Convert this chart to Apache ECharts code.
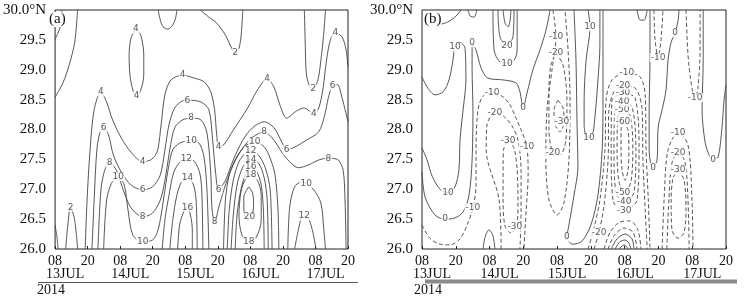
<!DOCTYPE html>
<html>
<head>
<meta charset="utf-8">
<script src="https://cdn.jsdelivr.net/npm/echarts@6/dist/echarts.min.js"></script>
<style>
html, body { margin: 0; padding: 0; background: #fff; }
#chart { width: 753px; height: 297px; }
</style>
</head>
<body>
<div id="chart"></div>
<script>
// time axis: hours after 13JUL 08, ticks every 12 h
const hourTicks = [0, 12, 24, 36, 48, 60, 72, 84, 96, 108]
const hourLabels = ['08', '20', '08', '20', '08', '20', '08', '20', '08', '20']
const dayTicks = [0, 24, 48, 72, 96]
const dayLabels = ['13JUL', '14JUL', '15JUL', '16JUL', '17JUL']
const latTicks = [26, 26.5, 27, 27.5, 28, 28.5, 29, 29.5, 30]
const latLabels = ['26.0', '26.5', '27.0', '27.5', '28.0', '28.5', '29.0', '29.5', '30.0°N']

// (a) contour lines, [hour, lat] along each line
const contoursA = [
  { level: 2, pts: [[0, 29.51], [1.1, 29.62], [2.2, 29.77], [2.5, 30]] },
  { level: 2, pts: [[8.3, 30], [7.9, 29.75], [7.2, 29.45], [5.4, 29.11], [2.9, 28.78], [0, 28.54]] },
  { level: 2, pts: [[38.0, 30], [38.8, 29.83], [39.8, 29.72], [41.6, 29.68], [43.4, 29.75], [44.5, 29.88], [44.9, 30]] },
  { level: 2, pts: [[53.5, 30], [56.7, 29.88], [59.6, 29.78], [62.8, 29.58], [64.9, 29.38], [66.4, 29.26], [67.8, 29.36], [68.5, 29.53], [68.9, 29.75], [69.2, 30]] },
  { level: 2, pts: [[91.9, 30], [92.2, 29.5], [92.6, 28.96], [93.6, 28.75], [95.1, 28.68], [96.9, 28.83], [98.0, 29.16], [99.0, 29.58], [99.7, 30]] },
  { level: 2, pts: [[3.9, 26.0], [4.7, 26.40], [5.7, 26.70], [7.2, 26.49], [8.3, 26.0]] },
  { level: 2, pts: [[0, 26.40], [0.7, 26.20], [1.1, 26.0]] },
  { level: 4, pts: [[29.8, 29.70], [31.6, 29.58], [32.7, 29.25], [32.7, 28.91], [31.6, 28.66], [30.1, 28.54], [28.7, 28.66], [27.6, 28.91], [27.3, 29.25], [28.0, 29.53], [29.8, 29.70]] },
  { level: 4, pts: [[11.1, 26.0], [11.8, 26.82], [12.9, 27.66], [14.4, 28.33], [16.9, 28.63], [19.0, 28.46], [21.2, 28.16], [24.4, 27.86], [28.0, 27.62], [32.3, 27.46], [35.2, 27.49], [37.0, 27.57], [38.0, 27.69], [39.1, 28.08], [40.5, 28.58], [42.7, 28.83], [47.0, 28.91], [51.3, 28.86], [54.9, 28.80], [57.4, 28.63], [58.8, 28.33], [59.6, 27.91], [60.3, 27.72], [62.1, 27.74], [65.7, 27.99], [71.0, 28.36], [74.6, 28.66], [78.2, 28.85], [80.7, 28.71], [82.9, 28.41], [85.4, 28.19], [89.0, 28.31], [91.9, 28.36], [95.4, 28.26], [97.2, 28.36], [98.7, 28.66], [100.1, 29.16], [101.5, 29.50], [103.3, 29.62], [105.8, 29.55], [107.3, 29.33], [108, 29.05]] },
  { level: 6, pts: [[13.6, 26.0], [14.4, 26.82], [15.4, 27.66], [16.5, 27.94], [17.9, 28.03], [19.7, 27.91], [21.5, 27.57], [24.4, 27.29], [28.0, 27.07], [32.3, 26.99], [35.9, 27.04], [38.8, 27.24], [40.5, 27.66], [42.0, 28.08], [44.1, 28.36], [47.0, 28.48], [48.8, 28.49], [53.8, 28.46], [56.7, 28.33], [58.1, 27.82], [59.2, 27.27], [60.3, 26.99], [62.8, 27.15], [65.7, 27.49], [69.2, 27.82], [72.8, 28.03], [77.1, 28.13], [80.7, 28.03], [83.6, 27.79], [85.4, 27.66], [89.0, 27.72], [92.6, 27.82], [97.2, 27.96], [99.4, 28.24], [100.8, 28.54], [102.3, 28.73], [104.1, 28.75], [105.8, 28.53], [108, 28.13]] },
  { level: 8, pts: [[15.8, 26.0], [16.9, 26.99], [18.3, 27.32], [20.1, 27.44], [22.6, 27.32], [25.1, 26.99], [28.0, 26.69], [32.3, 26.54], [35.9, 26.60], [38.8, 26.82], [40.5, 27.15], [42.3, 27.66], [44.1, 28.03], [47.0, 28.16], [50.2, 28.19], [53.8, 28.16], [56.0, 27.94], [57.4, 27.27], [57.8, 26.70], [58.8, 26.45], [60.6, 26.74], [62.8, 27.07], [65.7, 27.41], [69.2, 27.69], [72.8, 27.87], [77.1, 27.96], [80.7, 27.82], [83.6, 27.62], [86.5, 27.46], [89.7, 27.36], [93.6, 27.41], [97.2, 27.49], [100.8, 27.52], [104.4, 27.49], [106.2, 27.32], [106.9, 26.82], [107.3, 26.0]] },
  { level: 10, pts: [[17.9, 26.0], [19.0, 26.82], [20.8, 27.10], [23.3, 27.21], [25.5, 27.07], [26.9, 26.65], [28.7, 26.23], [32.3, 26.12], [35.9, 26.15], [37.7, 26.28], [39.1, 26.57], [40.5, 26.99], [42.0, 27.41], [43.4, 27.66], [45.9, 27.77], [50.2, 27.82], [53.1, 27.77], [54.9, 27.54], [56.0, 26.99], [56.7, 26.0]] },
  { level: 12, pts: [[39.5, 26.0], [40.5, 26.49], [42.0, 26.90], [43.8, 27.29], [46.3, 27.47], [48.4, 27.52], [51.3, 27.47], [53.5, 27.24], [54.2, 26.82], [54.5, 26.0]] },
  { level: 14, pts: [[42.3, 26.0], [43.4, 26.49], [44.9, 26.90], [46.6, 27.12], [48.8, 27.19], [50.9, 27.09], [52.0, 26.82], [52.4, 26.0]] },
  { level: 16, pts: [[45.2, 26.0], [45.9, 26.40], [47.4, 26.62], [48.8, 26.70], [49.9, 26.57], [50.6, 26.32], [50.6, 26.0]] },
  { level: 10, pts: [[62.1, 26.0], [62.8, 26.82], [64.2, 27.24], [66.7, 27.52], [70.0, 27.72], [73.6, 27.79], [77.1, 27.71], [79.3, 27.52], [81.1, 27.24], [82.2, 26.65], [82.5, 26.0]] },
  { level: 12, pts: [[63.5, 26.0], [64.2, 26.65], [65.7, 27.15], [67.8, 27.46], [70.3, 27.61], [72.1, 27.64], [75.0, 27.57], [77.5, 27.36], [79.3, 26.99], [80.0, 26.0]] },
  { level: 14, pts: [[64.9, 26.0], [65.7, 26.57], [67.1, 27.07], [69.2, 27.37], [72.1, 27.50], [75.0, 27.44], [77.1, 27.19], [78.2, 26.82], [78.6, 26.0]] },
  { level: 16, pts: [[66.4, 26.0], [67.1, 26.57], [68.5, 26.99], [70.3, 27.26], [72.1, 27.37], [74.2, 27.31], [76.0, 27.07], [76.8, 26.65], [77.1, 26.0]] },
  { level: 18, pts: [[72.1, 27.24], [74.6, 27.15], [76.0, 26.90], [76.0, 26.49], [74.2, 26.20], [71.4, 26.12], [68.9, 26.23], [67.8, 26.57], [68.5, 26.95], [70.0, 27.15], [72.1, 27.24]] },
  { level: 20, pts: [[71.4, 27.04], [72.8, 26.94], [73.2, 26.74], [72.5, 26.54], [71.0, 26.49], [69.6, 26.65], [69.6, 26.87], [71.4, 27.04]] },
  { level: 10, pts: [[85.8, 26.0], [86.5, 26.70], [88.3, 27.04], [90.8, 27.12], [92.6, 27.10], [95.4, 26.99], [98.0, 26.77], [99.0, 26.37], [99.7, 26.0]] },
  { level: 12, pts: [[88.3, 26.0], [89.7, 26.32], [90.8, 26.52], [91.9, 26.55], [93.6, 26.49], [95.1, 26.27], [96.2, 26.0]] }
]
const labelsA = [
  [66.4, 29.28, '2'], [95.1, 28.68, '2'], [5.7, 26.70, '2'],
  [29.8, 29.68, '4'], [30.1, 28.56, '4'], [16.9, 28.63, '4'], [32.3, 27.46, '4'], [47.0, 28.91, '4'],
  [60.3, 27.72, '4'], [78.2, 28.85, '4'], [95.4, 28.26, '4'], [103.3, 29.62, '4'],
  [17.9, 28.03, '6'], [32.3, 26.99, '6'], [48.8, 28.49, '6'], [60.3, 26.99, '6'], [85.4, 27.66, '6'], [102.3, 28.73, '6'],
  [20.1, 27.44, '8'], [32.3, 26.54, '8'], [50.2, 28.19, '8'], [58.8, 26.45, '8'], [77.1, 27.96, '8'], [100.8, 27.52, '8'],
  [23.3, 27.21, '10'], [32.3, 26.12, '10'], [50.2, 27.82, '10'], [73.6, 27.79, '10'], [92.6, 27.10, '10'],
  [48.4, 27.52, '12'], [72.1, 27.64, '12'], [91.9, 26.55, '12'],
  [48.8, 27.19, '14'], [72.1, 27.50, '14'],
  [48.8, 26.70, '16'], [72.1, 27.37, '16'],
  [72.1, 27.24, '18'], [71.4, 26.12, '18'],
  [71.7, 26.54, '20']
]

// (b) contour lines, negative values dashed
const contoursB = [
  // 13JUL side
  { level: 10, pts: [[0, 28.88], [2.1, 28.69], [4.6, 28.58], [7.5, 28.63], [9.6, 28.83], [11.0, 29.16], [11.7, 29.38], [13.5, 29.46], [15.3, 29.36], [15.6, 28.83], [14.6, 28.33], [13.5, 27.82], [13.1, 27.32], [11.7, 27.04], [9.2, 26.94], [6.4, 27.0], [3.6, 27.22], [1.8, 27.49], [0, 27.69]] },
  { level: 10, pts: [[5.7, 29.75], [9.2, 29.80], [12.1, 29.90], [13.9, 30]] },
  { level: 10, pts: [[16.3, 30], [17.1, 29.9], [18.5, 29.88], [19.5, 30]] },
  { level: 0, pts: [[0, 27.29], [1.1, 26.87], [4.6, 26.57], [8.2, 26.50], [11.7, 26.52], [14.6, 26.62], [16.7, 26.90], [17.8, 27.49], [18.1, 28.33], [17.8, 29.0], [17.8, 29.33], [17.8, 29.45], [19.2, 29.33], [21.0, 29.03], [23.4, 28.86], [28.8, 28.83], [33.4, 28.78], [34.8, 28.63], [35.9, 28.36], [37.3, 28.61], [39.4, 29.0], [41.9, 29.33], [44.1, 29.67], [45.5, 30]] },
  { level: 10, pts: [[25.2, 30], [25.6, 29.33], [27.7, 29.13], [30.2, 29.11], [32.7, 29.16], [33.8, 29.33], [33.8, 30]] },
  { level: 20, pts: [[27.0, 30], [27.7, 29.55], [30.2, 29.41], [32.3, 29.55], [32.7, 30]] },
  { level: 30, pts: [[28.8, 30], [29.5, 29.78], [30.6, 29.72], [31.3, 29.83], [31.6, 30]] },
  { level: 0, pts: [[21.7, 26.0], [22.4, 26.2], [23.8, 26.32], [25.2, 26.22], [25.9, 26.0]] },
  // 14JUL negative area
  { level: -10, pts: [[0, 26.40], [2.8, 26.18], [6.4, 26.08], [10.0, 26.07], [13.5, 26.17], [16.0, 26.40], [18.1, 26.69], [19.2, 27.07], [19.2, 27.66], [19.9, 28.33], [21.7, 28.56], [24.9, 28.61], [28.4, 28.56], [31.3, 28.41], [33.4, 28.19], [35.5, 27.96], [37.3, 27.71], [37.7, 27.24], [37.0, 26.65], [36.2, 26.0]] },
  { level: -20, pts: [[28.1, 26.0], [27.4, 26.82], [22.8, 27.66], [23.1, 28.08], [25.9, 28.28], [28.8, 28.23], [32.0, 28.06], [34.1, 27.82], [35.2, 27.32], [35.2, 26.65], [34.8, 26.0]] },
  { level: -30, pts: [[30.6, 27.82], [32.7, 27.69], [33.8, 27.32], [34.1, 26.82], [33.8, 26.40], [31.6, 26.27], [29.5, 26.38], [28.8, 26.82], [28.8, 27.41], [29.1, 27.69], [30.6, 27.82]] },
  // 15JUL trough
  { level: -10, pts: [[46.5, 30], [47.6, 29.55], [46.2, 29.0], [44.4, 28.33], [44.0, 27.49], [45.1, 26.82], [48.0, 26.57], [50.4, 26.77], [52.2, 27.49], [52.6, 28.49], [51.9, 29.33], [50.8, 30]] },
  { level: -20, pts: [[47.6, 29.28], [50.1, 29.08], [51.5, 28.49], [51.1, 27.82], [49.0, 27.57], [46.5, 27.61], [45.1, 27.99], [45.1, 28.66], [45.8, 29.08], [47.6, 29.28]] },
  { level: -30, pts: [[48.3, 28.49], [50.1, 28.36], [50.5, 28.13], [49.0, 27.96], [47.3, 28.08], [46.9, 28.33], [48.3, 28.49]] },
  // 15JUL 20 positive strip
  { level: 0, pts: [[54.0, 30], [54.7, 29.16], [55.1, 28.04], [55.4, 27.37], [54.0, 26.90], [52.2, 26.40], [51.5, 26.20], [53.6, 26.08], [56.8, 26.13], [60.0, 26.40], [62.5, 26.90], [64.0, 27.66], [64.3, 28.49], [64.3, 29.33], [64.3, 30]] },
  { level: 10, pts: [[59.0, 30], [59.7, 29.72], [58.3, 29.16], [57.6, 28.49], [57.6, 28.08], [58.6, 27.87], [60.4, 27.89], [61.5, 28.24], [62.5, 28.83], [63.2, 29.41], [63.2, 30]] },
  // 16JUL vortex
  { level: -60, pts: [[71.4, 28.13], [73.2, 27.99], [73.5, 27.66], [73.2, 27.32], [72.1, 27.15], [71.1, 27.32], [70.7, 27.66], [70.7, 27.99], [71.4, 28.13]] },
  { level: -50, pts: [[71.1, 28.33], [73.9, 28.24], [74.9, 27.66], [74.2, 27.12], [72.1, 26.95], [70.0, 27.12], [69.3, 27.66], [69.6, 28.23], [71.1, 28.33]] },
  { level: -40, pts: [[71.1, 28.46], [74.6, 28.38], [76.0, 27.66], [75.3, 26.95], [71.8, 26.79], [68.9, 26.94], [68.2, 27.66], [68.6, 28.36], [71.1, 28.46]] },
  { level: -30, pts: [[71.4, 28.61], [75.7, 28.53], [77.1, 27.66], [76.4, 26.82], [71.8, 26.65], [67.9, 26.80], [67.2, 27.66], [67.5, 28.49], [71.4, 28.61]] },
  { level: -20, pts: [[61.1, 26.0], [62.9, 26.28], [64.7, 26.74], [66.1, 27.49], [66.4, 28.33], [68.2, 28.63], [71.4, 28.74], [76.0, 28.68], [78.2, 28.33], [78.5, 27.49], [79.3, 26.65], [80.0, 26.0]] },
  { level: -10, pts: [[59.0, 26.0], [61.1, 26.35], [63.2, 26.82], [65.0, 27.66], [65.4, 28.49], [67.5, 28.83], [72.8, 28.95], [77.5, 28.88], [79.3, 28.58], [79.6, 27.66], [80.4, 26.82], [81.0, 26.0]] },
  { level: -20, pts: [[64.7, 26.0], [66.8, 26.28], [70.3, 26.45], [73.9, 26.47], [76.7, 26.32], [77.8, 26.0]] },
  { level: -10, pts: [[66.1, 26.0], [68.2, 26.22], [71.8, 26.35], [75.0, 26.28], [76.4, 26.0]] },
  { level: 0, pts: [[67.2, 26.0], [69.3, 26.17], [72.1, 26.25], [74.6, 26.17], [75.3, 26.0]] },
  { level: 10, pts: [[68.6, 26.0], [70.3, 26.12], [72.1, 26.15], [73.5, 26.10], [74.2, 26.0]] },
  { level: 20, pts: [[70.0, 26.0], [71.8, 26.07], [73.2, 26.0]] },
  // 16JUL 20 - 17JUL
  { level: 0, pts: [[76.4, 30], [77.5, 29.83], [78.9, 29.83], [80.0, 30]] },
  { level: -10, pts: [[82.4, 30], [82.8, 29.50], [83.9, 29.20], [84.9, 29.50], [85.6, 30]] },
  { level: 0, pts: [[81.0, 30], [81.0, 29.16], [80.7, 28.33], [80.7, 27.74], [81.0, 27.49], [82.1, 27.36], [83.5, 27.49], [83.9, 28.04], [85.3, 28.33], [86.7, 28.66], [87.4, 29.16], [88.5, 29.46], [89.9, 29.62], [91.0, 29.83], [91.3, 30]] },
  { level: -10, pts: [[93.8, 30], [94.5, 29.25], [95.9, 28.69], [97.0, 28.53], [98.0, 28.69], [98.8, 29.33], [98.8, 30]] },
  { level: -10, pts: [[85.3, 26.0], [86.0, 26.82], [87.4, 27.66], [91.0, 27.95], [94.5, 27.74], [95.9, 26.82], [96.3, 26.0]] },
  { level: -20, pts: [[87.0, 26.0], [87.7, 26.82], [88.8, 27.44], [91.0, 27.61], [93.4, 27.46], [94.5, 26.82], [94.9, 26.0]] },
  { level: -30, pts: [[91.0, 27.32], [93.1, 27.15], [93.8, 26.65], [93.1, 26.28], [91.0, 26.18], [88.8, 26.32], [88.5, 26.82], [89.2, 27.19], [91.0, 27.32]] },
  { level: 0, pts: [[99.9, 30], [99.9, 29.16], [99.5, 28.33], [100.6, 27.78], [102.3, 27.54], [103.4, 27.49], [105.2, 27.54], [106.6, 28.04], [107.3, 28.49], [108, 28.75]] }
]
const labelsB = [
  [11.7, 29.38, '10'], [9.2, 26.94, '10'], [8.2, 26.50, '0'], [17.8, 29.45, '0'], [35.9, 28.36, '0'],
  [30.2, 29.11, '10'], [30.2, 29.41, '20'],
  [18.1, 26.69, '-10'], [24.9, 28.61, '-10'], [37.3, 27.71, '-10'], [25.9, 28.28, '-20'],
  [30.6, 27.82, '-30'], [33.0, 26.37, '-30'],
  [47.6, 29.55, '-10'], [47.6, 29.28, '-20'], [46.5, 27.61, '-20'], [49.7, 28.13, '-30'],
  [51.5, 26.20, '0'], [59.7, 29.72, '10'], [59.3, 27.87, '10'],
  [71.4, 28.13, '-60'], [71.1, 28.33, '-50'], [71.1, 28.46, '-40'], [71.4, 28.61, '-30'], [71.4, 28.74, '-20'], [72.8, 28.95, '-10'],
  [71.4, 26.95, '-50'], [71.8, 26.79, '-40'], [71.8, 26.65, '-30'], [62.9, 26.28, '-20'],
  [83.9, 29.20, '-10'], [82.1, 27.36, '0'], [89.9, 29.62, '0'], [97.0, 28.53, '-10'],
  [91.0, 27.95, '-10'], [91.0, 27.61, '-20'], [91.0, 27.32, '-30'], [103.4, 27.49, '0']
]

const serif = 'Liberation Serif'
const lineColor = '#444'

function xAxisFor (gi) {
  return {
    type: 'value', gridIndex: gi, min: 0, max: 108, interval: 12,
    axisLine: { show: false }, splitLine: { show: false },
    axisTick: { show: true, inside: true, length: 3, lineStyle: { color: '#222' } },
    axisLabel: {
      margin: 5, color: '#111', fontFamily: serif, fontSize: 14,
      showMinLabel: true, showMaxLabel: true, hideOverlap: false,
      formatter: v => hourLabels[hourTicks.indexOf(v)] || ''
    }
  }
}

function yAxisFor (gi) {
  return {
    type: 'value', gridIndex: gi, min: 26, max: 30, interval: 0.5,
    axisLine: { show: false }, axisTick: { show: false }, splitLine: { show: false },
    axisLabel: {
      margin: 9, color: '#111', fontFamily: serif, fontSize: 15,
      showMinLabel: true, showMaxLabel: true,
      formatter: v => latLabels[latTicks.indexOf(v)] || ''
    }
  }
}

function contourSeries (list, labels, gi) {
  const out = list.map(c => ({
    type: 'line', xAxisIndex: gi, yAxisIndex: gi, data: c.pts,
    smooth: 0.3, symbol: 'none', silent: true, z: 2,
    lineStyle: { color: lineColor, width: 0.9, type: c.level < 0 ? [4, 2.5] : 'solid' }
  }))
  out.push({
    type: 'scatter', xAxisIndex: gi, yAxisIndex: gi, symbolSize: 0, silent: true, z: 5,
    data: labels.map(l => ({ value: [l[0], l[1]], name: l[2] })),
    label: {
      show: true, position: 'inside', formatter: p => p.name,
      fontFamily: 'DejaVu Sans', fontSize: 9, color: '#333',
      backgroundColor: '#fff', padding: [0, 1]
    }
  })
  return out
}

const chart = echarts.init(document.getElementById('chart'), null, { renderer: 'canvas' })
chart.setOption({
  animation: false,
  backgroundColor: '#fff',
  grid: [
    { left: 47, top: 10, width: 301, height: 239, show: true, borderColor: '#222', borderWidth: 1, backgroundColor: 'transparent' },
    { left: 422, top: 10, width: 304, height: 239, show: true, borderColor: '#222', borderWidth: 1, backgroundColor: 'transparent' }
  ],
  xAxis: [xAxisFor(0), xAxisFor(1)],
  yAxis: [yAxisFor(0), yAxisFor(1)],
  series: [...contourSeries(contoursA, labelsA, 0), ...contourSeries(contoursB, labelsB, 1)]
})

// date row under the 08 ticks, left edge a little before each tick
const dateText = []
;[0, 1].forEach(gi => {
  dayTicks.forEach((d, i) => {
    const x = chart.convertToPixel({ xAxisIndex: gi }, d)
    dateText.push({ type: 'text', x: x - 9, y: 267, style: { text: dayLabels[i], font: '14px "Liberation Serif"', fill: '#111' } })
  })
})

chart.setOption({
  graphic: [
    { type: 'text', left: 49, top: 12, z: 10, style: { text: '(a)', font: '15px "Liberation Serif"', fill: '#111', backgroundColor: '#fff' } },
    { type: 'text', left: 424, top: 12, z: 10, style: { text: '(b)', font: '15px "Liberation Serif"', fill: '#111', backgroundColor: '#fff' } },
    { type: 'line', shape: { x1: 38, y1: 282.5, x2: 358, y2: 282.5 }, style: { stroke: '#555', lineWidth: 1 } },
    { type: 'rect', shape: { x: 425, y: 279.5, width: 312, height: 4 }, style: { fill: '#8a8a8a' } },
    { type: 'text', x: 37, y: 283, style: { text: '2014', font: '14px "Liberation Serif"', fill: '#111' } },
    { type: 'text', x: 414, y: 283, style: { text: '2014', font: '14px "Liberation Serif"', fill: '#111' } },
    ...dateText
  ]
})
</script>
</body>
</html>
